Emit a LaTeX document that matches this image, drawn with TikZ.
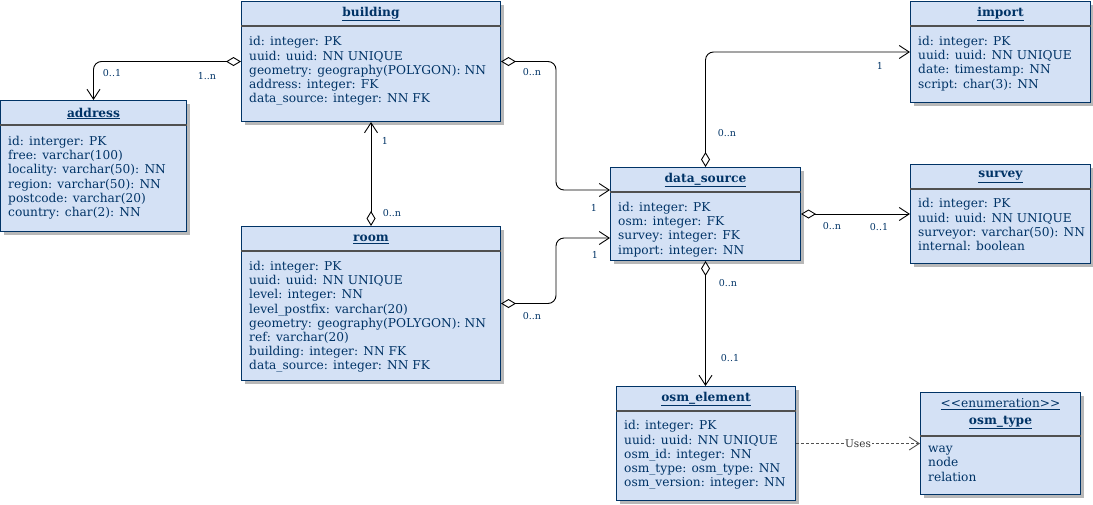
\documentclass[tikz,border=0pt]{standalone}
\usepackage{fontspec}
\setmainfont{DejaVu Serif}
\usetikzlibrary{positioning,shadows,arrows.meta}

\definecolor{boxfill}{HTML}{D4E1F5}
\definecolor{boxline}{HTML}{003366}
\definecolor{sepgray}{HTML}{505050}

\tikzset{
  tbox/.style={draw=boxline, fill=boxfill, line width=1pt, anchor=north west, inner sep=0pt,
    drop shadow={shadow xshift=3pt, shadow yshift=-3pt, fill=black!28, opacity=1}},
  thead/.style={text=boxline, font=\fontsize{12.2}{14}\selectfont\bfseries, align=center, inner sep=0pt},
  tbody/.style={text=boxline, font=\fontsize{12.2}{14.2}\selectfont, align=left, inner sep=0pt},
  tsep/.style={draw=sepgray, line width=1.5pt},
  mult/.style={text=boxline, font=\fontsize{9.5}{11}\selectfont, inner sep=0pt},
  assoc/.style={draw, line width=0.9pt, rounded corners=8pt,
    {Diamond[fill=white,length=15pt,width=9pt]}-{Straight Barb[length=10pt,width=13pt]}},
  uses/.style={draw=sepgray, line width=0.9pt, dash pattern=on 3pt off 2pt, -{Straight Barb[length=10pt,width=13pt]}}
}

\begin{document}
\begin{tikzpicture}[x=1pt,y=1pt]
  \useasboundingbox (0,0) rectangle (1093,-504);

  % tables
  \node (building) [tbox, minimum width=259pt, minimum height=120pt] at (241,-1) {};
  \node (buildingT) [thead] at ([yshift=-13pt]building.north) {\underline{building}};
  \draw[tsep] ([yshift=-25pt]building.north west) -- ([yshift=-25pt]building.north east);
  \node (buildingB) [tbody, below right=35.5pt and 8pt of building.north west] {id: integer: PK\\uuid: uuid: NN UNIQUE\\geometry: geography(POLYGON): NN\\address: integer: FK\\data\_source: integer: NN FK};

  \node (address) [tbox, minimum width=186pt, minimum height=131pt] at (0,-100) {};
  \node (addressT) [thead] at ([yshift=-13.5pt]address.north) {\underline{address}};
  \draw[tsep] ([yshift=-25pt]address.north west) -- ([yshift=-25pt]address.north east);
  \node (addressB) [tbody, below right=36pt and 8pt of address.north west] {id: interger: PK\\free: varchar(100)\\locality: varchar(50): NN\\region: varchar(50): NN\\postcode: varchar(20)\\country: char(2): NN};

  \node (room) [tbox, minimum width=259pt, minimum height=154pt] at (241,-226) {};
  \node (roomT) [thead] at ([yshift=-13pt]room.north) {\underline{room}};
  \draw[tsep] ([yshift=-25pt]room.north west) -- ([yshift=-25pt]room.north east);
  \node (roomB) [tbody, below right=35pt and 8pt of room.north west] {id: integer: PK\\uuid: uuid: NN UNIQUE\\level: integer: NN\\level\_postfix: varchar(20)\\geometry: geography(POLYGON): NN\\ref: varchar(20)\\building: integer: NN FK\\data\_source: integer: NN FK};

  \node (ds) [tbox, minimum width=190pt, minimum height=93pt] at (610,-167) {};
  \node (dsT) [thead] at ([yshift=-13pt]ds.north) {\underline{data\_source}};
  \draw[tsep] ([yshift=-25pt]ds.north west) -- ([yshift=-25pt]ds.north east);
  \node (dsB) [tbody, below right=35pt and 8pt of ds.north west] {id: integer: PK\\osm: integer: FK\\survey: integer: FK\\import: integer: NN};

  \node (import) [tbox, minimum width=180pt, minimum height=101pt] at (910,-1) {};
  \node (importT) [thead] at ([yshift=-13pt]import.north) {\underline{import}};
  \draw[tsep] ([yshift=-25pt]import.north west) -- ([yshift=-25pt]import.north east);
  \node (importB) [tbody, below right=35pt and 8pt of import.north west] {id: integer: PK\\uuid: uuid: NN UNIQUE\\date: timestamp: NN\\script: char(3): NN};

  \node (survey) [tbox, minimum width=180pt, minimum height=99pt] at (910,-164) {};
  \node (surveyT) [thead] at ([yshift=-13pt]survey.north) {\underline{survey}};
  \draw[tsep] ([yshift=-25pt]survey.north west) -- ([yshift=-25pt]survey.north east);
  \node (surveyB) [tbody, below right=34.5pt and 8pt of survey.north west] {id: integer: PK\\uuid: uuid: NN UNIQUE\\surveyor: varchar(50): NN\\internal: boolean};

  \node (osmel) [tbox, minimum width=179pt, minimum height=114pt] at (616,-386) {};
  \node (osmelT) [thead] at ([yshift=-13pt]osmel.north) {\underline{osm\_element}};
  \draw[tsep] ([yshift=-25pt]osmel.north west) -- ([yshift=-25pt]osmel.north east);
  \node (osmelB) [tbody, below right=34.5pt and 8pt of osmel.north west] {id: integer: PK\\uuid: uuid: NN UNIQUE\\osm\_id: integer: NN\\osm\_type: osm\_type: NN\\osm\_version: integer: NN};

  \node (osmtype) [tbox, minimum width=160pt, minimum height=102pt] at (920,-392) {};
  \node (osmtypeS) [thead, font=\fontsize{12.2}{14}\selectfont] at ([yshift=-12.5pt]osmtype.north) {\underline{<\kern0pt<enumeration>\kern0pt>}};
  \node (osmtypeT) [thead] at ([yshift=-30.5pt]osmtype.north) {\underline{osm\_type}};
  \draw[tsep] ([yshift=-44pt]osmtype.north west) -- ([yshift=-44pt]osmtype.north east);
  \node (osmtypeB) [tbody, below right=54pt and 8pt of osmtype.north west] {way\\node\\relation};

  % connectors
  \draw[assoc] (building.west) -| (address.north);
  \draw[assoc] (building.east) -- ++(55,0) |- ([yshift=24pt]ds.west);
  \draw[assoc] (room.north) -- (building.south);
  \draw[assoc] (room.east) -- ++(55,0) |- ([yshift=-24pt]ds.west);
  \draw[assoc] (ds.north) |- (import.west);
  \draw[assoc] (ds.east) -- (survey.west);
  \draw[assoc] (ds.south) -- (ds.south |- osmel.north);
  \draw[uses] (osmel.east) -- node (usesL) [fill=white, inner sep=1pt, text=black!80, font=\fontsize{10.5}{12}\selectfont] {Uses} (osmtype.west);

  % multiplicities
  \node (m1) [mult] at (112,-73) {0..1};
  \node (m2) [mult] at (207,-76) {1..n};
  \node (m3) [mult] at (532,-72) {0..n};
  \node (m4) [mult] at (594,-208) {1};
  \node (m5) [mult] at (385,-141) {1};
  \node (m6) [mult] at (392,-213) {0..n};
  \node (m7) [mult] at (532,-316) {0..n};
  \node (m8) [mult] at (595,-255) {1};
  \node (m9) [mult] at (727,-133) {0..n};
  \node (m10) [mult] at (880,-66) {1};
  \node (m11) [mult] at (832,-226) {0..n};
  \node (m12) [mult] at (879,-227) {0..1};
  \node (m13) [mult] at (728,-283) {0..n};
  \node (m14) [mult] at (730,-358) {0..1};
\end{tikzpicture}
\end{document}
